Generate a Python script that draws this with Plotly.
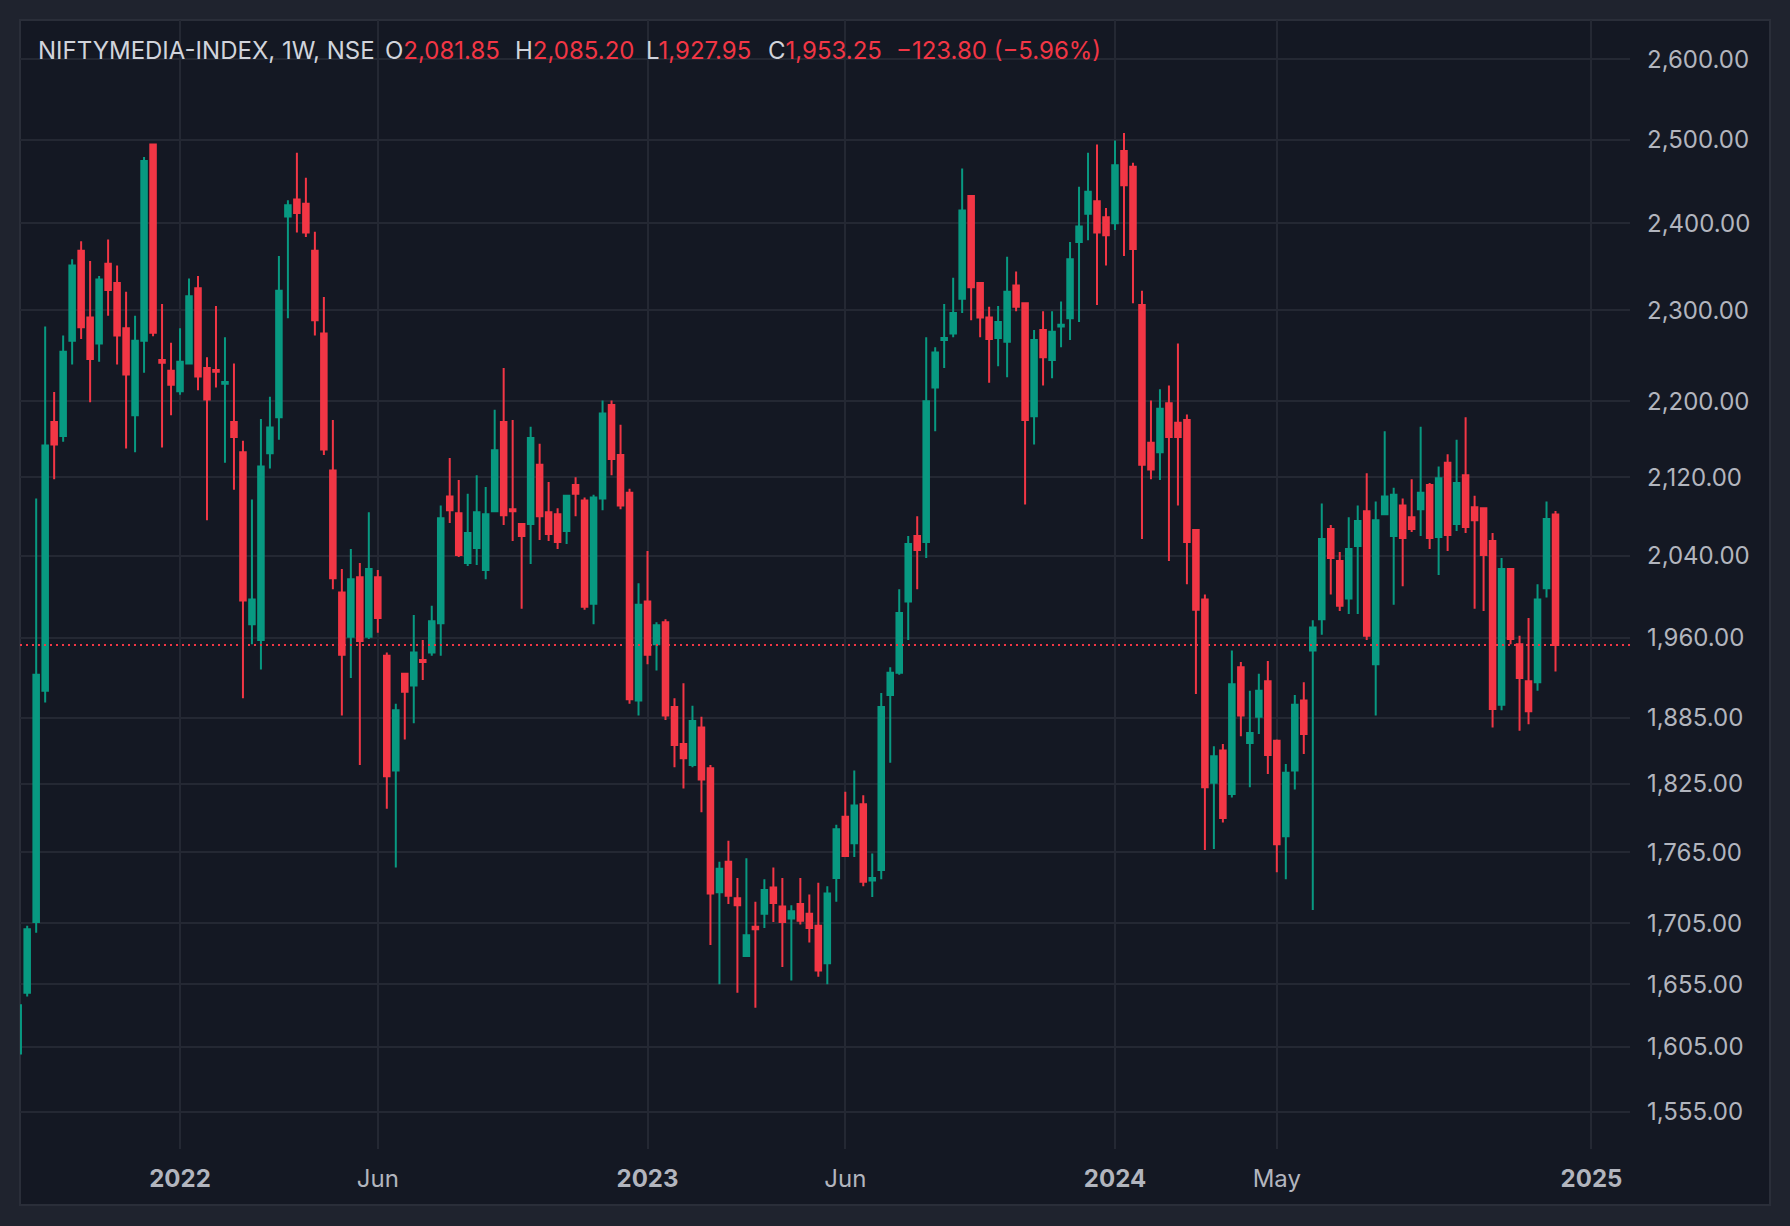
import math
import pandas as pd
import plotly.graph_objects as go

# ---------------- data (weekly OHLC) ----------------
week_start = "2021-08-30"

opens = [1600, 1648, 1706, 1910, 2178, 2163, 2266, 2368, 2292, 2263,
         2353, 2331, 2280, 2185, 2266, 2494, 2245, 2233, 2211, 2241,
         2325, 2236, 2234, 2219, 2178, 2146, 1973, 1958, 2145, 2183,
         2408, 2428, 2423, 2368, 2274, 2127, 2004, 1961, 2019, 1961,
         2019, 1943, 1837, 1926, 1915, 1939, 1946, 1974, 2100, 2083,
         2033, 2048, 2026, 2085, 2178, 2087, 2072, 2072, 2133, 2084,
         2082, 2065, 2112, 2096, 1993, 2098, 2196, 2143, 2104, 1901,
         1995, 1954, 1975, 1895, 1861, 1842, 1876, 1839, 1731, 1757,
         1726, 1678, 1702, 1713, 1735, 1719, 1709, 1721, 1713, 1703,
         1672, 1743, 1796, 1773, 1807, 1741, 1750, 1906, 1927, 1995,
         2060, 2054, 2215, 2267, 2274, 2313, 2432, 2331, 2292, 2269,
         2265, 2328, 2308, 2184, 2278, 2245, 2282, 2291, 2378, 2411,
         2426, 2407, 2400, 2486, 2467, 2306, 2156, 2146, 2198, 2177,
         2180, 2066, 1997, 1826, 1855, 1816, 1932, 1862, 1886, 1919,
         1864, 1779, 1837, 1901, 1948, 1978, 2067, 2035, 1998, 2050,
         2085, 1935, 2082, 2060, 2091, 2079, 2087, 2112, 2059, 2135,
         2072, 2122, 2089, 2088, 2055, 1897, 2027, 1954, 1919, 1918,
         2008, 2081.85]

highs = [1641, 1703, 2098, 2282, 2210, 2272, 2358, 2379, 2356, 2339,
         2381, 2351, 2321, 2294, 2479, 2495, 2307, 2264, 2280, 2336,
         2339, 2248, 2305, 2270, 2241, 2158, 2097, 2181, 2205, 2362,
         2427, 2484, 2454, 2390, 2315, 2180, 2027, 2047, 2033, 2084,
         2026, 1946, 1898, 1927, 1982, 1958, 1991, 2091, 2140, 2117,
         2103, 2122, 2110, 2191, 2236, 2180, 2073, 2173, 2155, 2115,
         2088, 2102, 2120, 2099, 2102, 2201, 2201, 2175, 2108, 2013,
         2045, 1975, 1978, 1903, 1917, 1896, 1886, 1842, 1757, 1775,
         1743, 1760, 1723, 1742, 1752, 1743, 1720, 1743, 1729, 1739,
         1736, 1789, 1818, 1837, 1815, 1764, 1908, 1932, 2007, 2060,
         2080, 2270, 2259, 2307, 2337, 2465, 2433, 2332, 2304, 2305,
         2361, 2344, 2309, 2278, 2299, 2299, 2310, 2378, 2443, 2484,
         2494, 2418, 2499, 2508, 2472, 2322, 2201, 2213, 2217, 2263,
         2186, 2067, 2002, 1859, 1861, 1948, 1937, 1910, 1926, 1938,
         1865, 1843, 1906, 1918, 1977, 2093, 2071, 2044, 2079, 2091,
         2124, 2095, 2168, 2109, 2098, 2118, 2173, 2114, 2131, 2144,
         2159, 2183, 2101, 2088, 2063, 2038, 2028, 1962, 1979, 2012,
         2095, 2085.20]

lows = [1597, 1645, 1697, 1899, 2118, 2157, 2240, 2268, 2199, 2243,
        2294, 2240, 2150, 2146, 2231, 2271, 2151, 2185, 2207, 2240,
        2212, 2076, 2215, 2135, 2107, 1903, 1954, 1930, 2129, 2159,
        2291, 2389, 2384, 2272, 2143, 2007, 1887, 1922, 1842, 1959,
        1965, 1803, 1752, 1865, 1880, 1920, 1943, 1943, 2073, 2039,
        2030, 2031, 2017, 2084, 2071, 2055, 1988, 2032, 2056, 2055,
        2047, 2052, 2080, 1987, 1973, 2086, 2122, 2087, 1898, 1887,
        1935, 1929, 1883, 1840, 1821, 1840, 1800, 1687, 1655, 1721,
        1648, 1678, 1636, 1701, 1706, 1669, 1658, 1704, 1689, 1661,
        1655, 1723, 1761, 1761, 1736, 1727, 1742, 1844, 1925, 1958,
        2007, 2038, 2168, 2236, 2270, 2297, 2289, 2270, 2220, 2238,
        2226, 2299, 2092, 2154, 2217, 2225, 2259, 2267, 2287, 2380,
        2306, 2351, 2392, 2362, 2308, 2057, 2118, 2117, 2035, 2091,
        2012, 1907, 1767, 1768, 1791, 1813, 1868, 1822, 1870, 1834,
        1748, 1742, 1820, 1852, 1716, 1963, 2002, 1986, 1983, 1983,
        1958, 1887, 2082, 1992, 2010, 2064, 2060, 2047, 2021, 2045,
        2065, 2063, 1988, 1986, 1876, 1892, 1954, 1873, 1879, 1910,
        1999, 1927.95]

closes = [1638, 1700, 1925, 2153, 2154, 2254, 2351, 2281, 2246, 2335,
          2323, 2272, 2229, 2266, 2474, 2275, 2242, 2218, 2243, 2316,
          2227, 2202, 2232, 2221, 2162, 1996, 1997, 2131, 2172, 2322,
          2421, 2412, 2389, 2289, 2149, 2018, 1944, 2017, 1957, 2027,
          1979, 1832, 1892, 1909, 1946, 1937, 1976, 2078, 2086, 2041,
          2063, 2084, 2082, 2148, 2081, 2085, 2060, 2161, 2080, 2062,
          2054, 2101, 2103, 1990, 2099, 2187, 2139, 2091, 1902, 1992,
          1944, 1972, 1887, 1860, 1848, 1882, 1829, 1730, 1751, 1728,
          1720, 1695, 1700, 1733, 1722, 1706, 1715, 1707, 1701, 1666,
          1730, 1785, 1762, 1806, 1740, 1743, 1895, 1927, 1984, 2052,
          2046, 2200, 2253, 2269, 2297, 2415, 2326, 2292, 2268, 2287,
          2321, 2304, 2180, 2267, 2248, 2276, 2284, 2358, 2396, 2437,
          2389, 2386, 2469, 2445, 2370, 2133, 2128, 2192, 2162, 2162,
          2054, 1987, 1822, 1850, 1795, 1916, 1887, 1871, 1910, 1851,
          1772, 1835, 1897, 1870, 1970, 2057, 2038, 1991, 2047, 2075,
          1962, 2076, 2100, 2102, 2058, 2067, 2104, 2058, 2119, 2061,
          2114, 2069, 2076, 2041, 1893, 2027, 1959, 1922, 1891, 1997,
          2077.05, 1953.25]

price_ticks = [1555, 1605, 1655, 1705, 1765, 1825, 1885, 1960,
               2040, 2120, 2200, 2300, 2400, 2500, 2600]
price_tick_text = [f"{v:,.2f}" for v in price_ticks]

time_ticks = ["2022-01-03", "2022-06-06", "2023-01-02", "2023-06-05",
              "2024-01-01", "2024-05-06", "2025-01-06"]
time_tick_text = ["<b>2022</b>", "Jun", "<b>2023</b>", "Jun",
                  "<b>2024</b>", "May", "<b>2025</b>"]

symbol_label = "NIFTYMEDIA-INDEX, 1W, NSE"
ohlc_labels = ["O", "H", "L", "C"]

# ---------------- styling ----------------
W, H = 1790, 1226
ML, MR, MT, MB = 20, 160, 20, 77
PW, PH = W - ML - MR, H - MT - MB

UP, DOWN = "#089981", "#f23645"
PANEL = "#141823"
OUTER = "#1f232e"
GRID = "#242833"
TXT = "#b2b5be"
HDR = "#d1d4dc"
FONT = "Inter, Roboto, sans-serif"


def px2x(px):
    return (px - ML) / PW


def py2y(py):
    return 1 - (py - MT) / PH


dates = pd.date_range(week_start, periods=len(opens), freq="7D")
x_start = pd.Timestamp("2021-08-31 09:36")
x_end = pd.Timestamp("2025-02-05 00:00")

fig = go.Figure()

# last-price dotted line
fig.add_trace(go.Scatter(
    x=[x_start, x_end], y=[closes[-1], closes[-1]], mode="lines",
    line=dict(color=DOWN, width=2, dash="2px,4px"),
    hoverinfo="skip", showlegend=False))

fig.add_trace(go.Candlestick(
    x=dates, open=opens, high=highs, low=lows, close=closes,
    increasing=dict(line=dict(color=UP, width=2), fillcolor=UP),
    decreasing=dict(line=dict(color=DOWN, width=2), fillcolor=DOWN),
    whiskerwidth=0, showlegend=False))

fig.update_layout(
    width=W, height=H,
    margin=dict(l=ML, r=MR, t=MT, b=MB),
    paper_bgcolor=OUTER, plot_bgcolor=PANEL,
    font=dict(family=FONT, color=TXT, size=24),
    boxgap=0.12,
    showlegend=False,
    hovermode=False,
    xaxis=dict(
        type="date", range=[x_start, x_end],
        rangeslider=dict(visible=False),
        tickmode="array", tickvals=time_ticks, ticktext=time_tick_text,
        showgrid=True, gridcolor=GRID, gridwidth=1.5,
        zeroline=False, showline=False, ticks="",
        ticklabelstandoff=13,
        tickfont=dict(size=24, color=TXT, family=FONT),
    ),
    yaxis=dict(
        type="log", side="right",
        range=[math.log10(1527.0), math.log10(2650.4)],
        tickmode="array", tickvals=price_ticks, ticktext=price_tick_text,
        showgrid=True, gridcolor=GRID, gridwidth=1.5,
        zeroline=False, showline=False, ticks="",
        ticklabelstandoff=16,
        tickfont=dict(size=24, color=TXT, family=FONT),
    ),
    shapes=[dict(
        type="rect", xref="paper", yref="paper", layer="below",
        x0=px2x(20), x1=px2x(1770), y0=py2y(1205), y1=py2y(20),
        fillcolor=PANEL, line=dict(color="#2a2e39", width=2))],
)

# header legend
hy = py2y(51)
HF = 24
fig.add_annotation(x=px2x(36), y=hy, xref="paper", yref="paper",
                   text=symbol_label, showarrow=False, xanchor="left",
                   yanchor="middle", font=dict(size=HF, color=HDR, family=FONT))
vals = [opens[-1], highs[-1], lows[-1], closes[-1]]
xs = [383, 513, 644, 766]
for lab, v, xp in zip(ohlc_labels, vals, xs):
    fig.add_annotation(
        x=px2x(xp), y=hy, xref="paper", yref="paper", showarrow=False,
        xanchor="left", yanchor="middle",
        text=f"{lab}<span style='color:{DOWN}'>{v:,.2f}</span>",
        font=dict(size=HF, color=HDR, family=FONT))
chg = closes[-1] - closes[-2]
pct = chg / closes[-2] * 100
fig.add_annotation(
    x=px2x(894), y=hy, xref="paper", yref="paper", showarrow=False,
    xanchor="left", yanchor="middle",
    text=f"\u2212{abs(chg):,.2f} (\u2212{abs(pct):.2f}%)",
    font=dict(size=HF, color=DOWN, family=FONT))

fig.write_html(
    "out.html",
    config={"displayModeBar": False},
    post_script=("document.body.style.margin='0';"
                 "document.body.style.overflow='hidden';"
                 f"document.body.style.background='{OUTER}';"))
